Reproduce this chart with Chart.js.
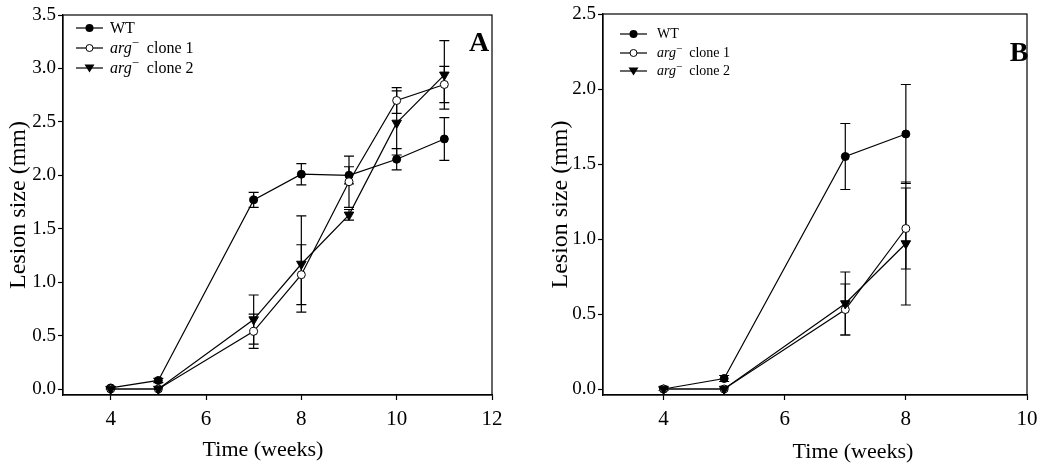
<!DOCTYPE html>
<html>
<head>
<meta charset="utf-8">
<script src="https://cdn.jsdelivr.net/npm/chart.js@4.4.0/dist/chart.umd.min.js"></script>
<style>
  html, body { margin: 0; padding: 0; background: #fff; }
  body { width: 1050px; height: 468px; position: relative; overflow: hidden; font-family: 'Liberation Serif', 'Times New Roman', serif; }
  .panel { position: absolute; top: 0; width: 525px; height: 468px; }
  .legend { position: absolute; color: #000; line-height: 1; }
  .legend .row { display: flex; align-items: center; white-space: nowrap; }
  .legend svg { display: block; }
  .legend sup { font-size: 0.8em; vertical-align: 0.45em; line-height: 0; }
</style>
</head>
<body>
<div class="panel" style="left:0"><canvas id="cA" width="525" height="468"></canvas></div>
<div class="panel" style="left:525px"><canvas id="cB" width="525" height="468"></canvas></div>

<div class="legend" id="legA" style="left:76px; top:18px; font-size:16px;"></div>
<div class="legend" id="legB" style="left:620px; top:25px; font-size:14px;"></div>

<script>
// ---------- DATA ----------
const seriesNames = ['WT', 'arg⁻ clone 1', 'arg⁻ clone 2'];

// Panel A
const weeksA = [4, 5, 7, 8, 9, 10, 11];
const wtA      = [0.01, 0.08, 1.77, 2.01, 2.00, 2.15, 2.34];
const wtAErr   = [0.01, 0.02, 0.07, 0.10, 0.08, 0.10, 0.20];
const c1A      = [0.00, 0.00, 0.54, 1.07, 1.94, 2.70, 2.85];
const c1AErr   = [0.00, 0.00, 0.16, 0.28, 0.24, 0.12, 0.17];
const c2A      = [0.00, 0.00, 0.65, 1.17, 1.63, 2.49, 2.94];
const c2AErr   = [0.00, 0.00, 0.23, 0.45, 0.05, 0.30, 0.32];
const xTicksA  = [4, 6, 8, 10, 12];
const yTicksA  = [0.0, 0.5, 1.0, 1.5, 2.0, 2.5, 3.0, 3.5];

// Panel B
const weeksB = [4, 5, 7, 8];
const wtB      = [0.00, 0.07, 1.55, 1.70];
const wtBErr   = [0.01, 0.02, 0.22, 0.33];
const c1B      = [0.00, 0.00, 0.53, 1.07];
const c1BErr   = [0.00, 0.00, 0.17, 0.27];
const c2B      = [0.00, 0.00, 0.57, 0.97];
const c2BErr   = [0.00, 0.00, 0.21, 0.41];
const xTicksB  = [4, 6, 8, 10];
const yTicksB  = [0.0, 0.5, 1.0, 1.5, 2.0, 2.5];

const xTitle = 'Time (weeks)';
const yTitle = 'Lesion size (mm)';

// ---------- STYLE ----------
const FONT = "'Liberation Serif', 'Times New Roman', serif";
Chart.defaults.font.family = FONT;
Chart.defaults.color = '#000';

const markerStyles = [
  { pointStyle: 'circle',   pointRadius: 4,   pointBackgroundColor: '#000', rotation: 0 },
  { pointStyle: 'circle',   pointRadius: 4,   pointBackgroundColor: '#fff', rotation: 0 },
  { pointStyle: 'triangle', pointRadius: 5.5, pointBackgroundColor: '#000', rotation: 180 }
];

function makeDatasets(weeks, vals, errs) {
  return vals.map((v, i) => Object.assign({
    label: seriesNames[i],
    data: weeks.map((w, j) => ({ x: w, y: v[j] })),
    err: errs[i],
    borderColor: '#000',
    borderWidth: 1.2,
    pointBorderColor: '#000',
    pointBorderWidth: 1,
    pointHoverRadius: 4,
    tension: 0,
    fill: false
  }, markerStyles[i])).reverse();
}

const errorBars = {
  id: 'errorBars',
  beforeDatasetsDraw(chart) {
    const ctx = chart.ctx, xs = chart.scales.x, ys = chart.scales.y;
    ctx.save();
    ctx.strokeStyle = '#000';
    ctx.lineWidth = 1.2;
    chart.data.datasets.forEach(ds => {
      ds.data.forEach((p, j) => {
        const e = ds.err[j];
        if (!e) return;
        const x = xs.getPixelForValue(p.x);
        const y1 = ys.getPixelForValue(p.y + e);
        const y2 = ys.getPixelForValue(p.y - e);
        ctx.beginPath();
        ctx.moveTo(x, y1); ctx.lineTo(x, y2);
        ctx.moveTo(x - 5, y1); ctx.lineTo(x + 5, y1);
        ctx.moveTo(x - 5, y2); ctx.lineTo(x + 5, y2);
        ctx.stroke();
      });
    });
    ctx.restore();
  }
};

const frameAndText = {
  id: 'frameAndText',
  afterDraw(chart, args, opts) {
    const ctx = chart.ctx, a = chart.chartArea;
    ctx.save();
    ctx.strokeStyle = '#000';
    ctx.lineWidth = 1.2;
    ctx.strokeRect(a.left, a.top, a.right - a.left, a.bottom - a.top);
    ctx.fillStyle = '#000';
    ctx.textAlign = 'center';
    ctx.textBaseline = 'middle';
    // x title
    ctx.font = '22px ' + FONT;
    ctx.fillText(xTitle, opts.xTitleX, opts.xTitleY);
    // y title
    ctx.font = '24px ' + FONT;
    ctx.save();
    ctx.translate(opts.yTitleX, (a.top + a.bottom) / 2);
    ctx.rotate(-Math.PI / 2);
    ctx.fillText(yTitle, 0, 0);
    ctx.restore();
    // panel letter
    ctx.font = 'bold 28px ' + FONT;
    ctx.fillText(opts.letter, opts.letterX, opts.letterY);
    ctx.restore();
  }
};

function makeChart(id, weeks, vals, errs, xTicks, yTicks, yMin, yMax, pad, yWidth, textOpts) {
  return new Chart(document.getElementById(id), {
    type: 'line',
    data: { datasets: makeDatasets(weeks, vals, errs) },
    options: {
      responsive: false,
      animation: false,
      devicePixelRatio: 1,
      layout: { padding: pad },
      plugins: {
        legend: { display: false },
        tooltip: { enabled: false },
        frameAndText: textOpts
      },
      scales: {
        x: {
          type: 'linear',
          min: 3, max: xTicks[xTicks.length - 1],
          afterBuildTicks: s => { s.ticks = xTicks.map(v => ({ value: v })); },
          afterFit: s => { s.height = 73; },
          grid: { drawOnChartArea: false, tickLength: 5, color: '#000', tickWidth: 1.2 },
          border: { display: true, color: '#000', width: 1.2 },
          ticks: { font: { size: 21 }, padding: 7, color: '#000', maxRotation: 0,
                   callback: v => String(v) }
        },
        y: {
          type: 'linear',
          min: yMin, max: yMax,
          afterBuildTicks: s => { s.ticks = yTicks.map(v => ({ value: v })); },
          afterFit: s => { s.width = yWidth; },
          grid: { drawOnChartArea: false, tickLength: 5, color: '#000', tickWidth: 1.2 },
          border: { display: true, color: '#000', width: 1.2 },
          ticks: { font: { size: 19 }, padding: 2, color: '#000',
                   callback: v => Number(v).toFixed(1) }
        }
      }
    },
    plugins: [errorBars, frameAndText]
  });
}

makeChart('cA', weeksA, [wtA, c1A, c2A], [wtAErr, c1AErr, c2AErr], xTicksA, yTicksA,
  -0.056, 3.5, { left: 0, top: 15, right: 33, bottom: 0 }, 63,
  { xTitleX: 263, xTitleY: 450, yTitleX: 19, letter: 'A', letterX: 479, letterY: 44 });

makeChart('cB', weeksB, [wtB, c1B, c2B], [wtBErr, c1BErr, c2BErr], xTicksB, yTicksB,
  -0.04, 2.5, { left: 0, top: 14, right: 23, bottom: 0 }, 78,
  { xTitleX: 328, xTitleY: 452, yTitleX: 36, letter: 'B', letterX: 494, letterY: 54 });

// ---------- HTML legends ----------
function markerSvg(i, gapAfter) {
  const w = 27, h = 12, cx = w / 2, cy = h / 2;
  let m;
  if (i === 0) m = `<circle cx="${cx}" cy="${cy}" r="4" fill="#000"/>`;
  else if (i === 1) m = `<circle cx="${cx}" cy="${cy}" r="3.5" fill="#fff" stroke="#000" stroke-width="1"/>`;
  else m = `<polygon points="${cx-5},${cy-3.5} ${cx+5},${cy-3.5} ${cx},${cy+4.5}" fill="#000"/>`;
  return `<svg width="${w}" height="${h}" style="margin-right:${gapAfter}px"><line x1="0" y1="${cy}" x2="${w}" y2="${cy}" stroke="#000" stroke-width="1.2"/>${m}</svg>`;
}
function labelHtml(i, gap) {
  if (i === 0) return 'WT';
  return `<i>arg</i><sup>−</sup><span style="margin-left:${gap}px">clone ${i}</span>`;
}
function buildLegend(id, rowH, markGap, gap) {
  const el = document.getElementById(id);
  el.innerHTML = seriesNames.map((n, i) =>
    `<div class="row" style="height:${rowH}px">${markerSvg(i, markGap)}<span>${labelHtml(i, gap)}</span></div>`).join('');
}
buildLegend('legA', 20, 7, 8);
buildLegend('legB', 18.5, 10, 7);
</script>
</body>
</html>
